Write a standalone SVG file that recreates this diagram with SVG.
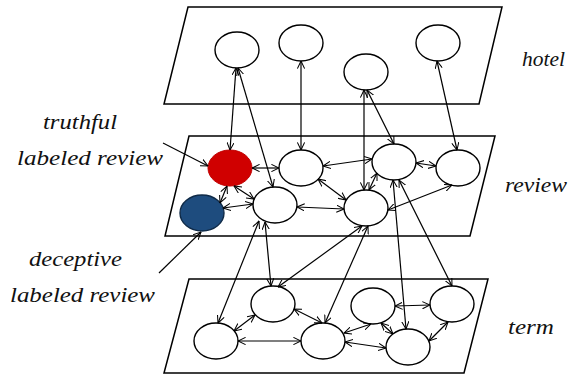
<svg xmlns="http://www.w3.org/2000/svg" width="570" height="376" viewBox="0 0 570 376">
<defs>
<marker id="ah" viewBox="0 0 10 10" refX="9.5" refY="5" markerWidth="8" markerHeight="8" markerUnits="userSpaceOnUse" orient="auto-start-reverse">
<path d="M0,0.5 L9.5,5 L0,9.5" fill="none" stroke="#000" stroke-width="1.3"/>
</marker>
<style>
.plane{fill:none;stroke:#000;stroke-width:1.5}
.n{fill:#fff;stroke:#000;stroke-width:1.4}
.red{fill:#d00000;stroke:#c00000;stroke-width:1}
.blue{fill:#1e4c7e;stroke:#0f2a47;stroke-width:1.4}
.e{fill:none;stroke:#000;stroke-width:1.2;marker-start:url(#ah);marker-end:url(#ah)}
.s{fill:none;stroke:#000;stroke-width:1.2;marker-end:url(#ah)}
.lbl{font-family:"Liberation Serif","Times New Roman",serif;font-style:italic;fill:#111}
</style>
</defs>
<rect width="570" height="376" fill="#fff"/>
<g id="planes">
<polygon class="plane" points="188,7 502,7 479,104 164,104"/>
<polygon class="plane" points="189,136 495,136 470,236 165,236"/>
<polygon class="plane" points="189,279 488,279 464,373 164,373"/>
</g>
<g id="hotel-nodes">
<g id="H1"><ellipse class="n" cx="237" cy="50" rx="22" ry="18"/></g>
<g id="H2"><ellipse class="n" cx="301" cy="43" rx="22" ry="18"/></g>
<g id="H3"><ellipse class="n" cx="366" cy="72" rx="22" ry="18"/></g>
<g id="H4"><ellipse class="n" cx="438" cy="43" rx="22" ry="18"/></g>
</g>
<g id="review-nodes">
<g id="R1"><ellipse class="red" cx="230" cy="168" rx="22" ry="18"/></g>
<g id="R2"><ellipse class="n" cx="301" cy="168" rx="22" ry="18"/></g>
<g id="R3"><ellipse class="n" cx="394" cy="162" rx="22" ry="18"/></g>
<g id="R4"><ellipse class="n" cx="458" cy="168" rx="22" ry="18"/></g>
<g id="R5"><ellipse class="blue" cx="202" cy="213" rx="22" ry="18"/></g>
<g id="R6"><ellipse class="n" cx="275" cy="205" rx="22" ry="18"/></g>
<g id="R7"><ellipse class="n" cx="366" cy="208" rx="22" ry="18"/></g>
</g>
<g id="term-nodes">
<g id="T1"><ellipse class="n" cx="216" cy="341" rx="22" ry="18"/></g>
<g id="T2"><ellipse class="n" cx="273" cy="304" rx="22" ry="18"/></g>
<g id="T3"><ellipse class="n" cx="323" cy="341" rx="22" ry="18"/></g>
<g id="T4"><ellipse class="n" cx="373" cy="306" rx="22" ry="18"/></g>
<g id="T5"><ellipse class="n" cx="452" cy="304" rx="22" ry="18"/></g>
<g id="T6"><ellipse class="n" cx="408" cy="347" rx="22" ry="18"/></g>
</g>
<g id="connectors">
<line class="e" x1="236" y1="68" x2="230" y2="150"/>
<line class="e" x1="238" y1="68" x2="273" y2="187"/>
<line class="e" x1="301" y1="61" x2="301" y2="150"/>
<line class="e" x1="364" y1="90" x2="364" y2="190"/>
<line class="e" x1="367" y1="90" x2="394" y2="144"/>
<line class="e" x1="437" y1="61" x2="457" y2="150"/>
<line class="e" x1="252" y1="168" x2="279" y2="168"/>
<line class="e" x1="227" y1="186" x2="220" y2="203"/>
<line class="e" x1="234" y1="186" x2="254" y2="199"/>
<line class="e" x1="223" y1="208" x2="253" y2="204"/>
<line class="e" x1="323" y1="166" x2="372" y2="159"/>
<line class="e" x1="318" y1="179" x2="346" y2="200"/>
<line class="e" x1="297" y1="207" x2="344" y2="209"/>
<line class="e" x1="377" y1="173" x2="369" y2="190"/>
<line class="e" x1="416" y1="163" x2="436" y2="166"/>
<line class="e" x1="452" y1="185" x2="388" y2="210"/>
<line class="s" x1="163" y1="143" x2="208" y2="166"/>
<line class="s" x1="159" y1="273" x2="201" y2="232"/>
<line class="e" x1="259" y1="221" x2="218" y2="323"/>
<line class="e" x1="265" y1="222" x2="271" y2="286"/>
<line class="e" x1="362" y1="226" x2="278" y2="287"/>
<line class="e" x1="368" y1="226" x2="325" y2="323"/>
<line class="e" x1="393" y1="180" x2="406" y2="329"/>
<line class="e" x1="399" y1="180" x2="452" y2="286"/>
<line class="e" x1="234" y1="331" x2="255" y2="315"/>
<line class="e" x1="238" y1="341" x2="301" y2="341"/>
<line class="e" x1="294" y1="309" x2="322" y2="323"/>
<line class="e" x1="344" y1="333" x2="371" y2="324"/>
<line class="e" x1="345" y1="342" x2="386" y2="348"/>
<line class="e" x1="395" y1="306" x2="430" y2="305"/>
<line class="e" x1="381" y1="323" x2="393" y2="334"/>
<line class="e" x1="448" y1="322" x2="429" y2="341"/>
</g>
<g id="labels">
<text class="lbl" x="43" y="129" font-size="22" textLength="74" lengthAdjust="spacingAndGlyphs">truthful</text>
<text class="lbl" x="17" y="165" font-size="22" textLength="146" lengthAdjust="spacingAndGlyphs">labeled review</text>
<text class="lbl" x="29" y="266" font-size="22" textLength="93" lengthAdjust="spacingAndGlyphs">deceptive</text>
<text class="lbl" x="10" y="302" font-size="22" textLength="145" lengthAdjust="spacingAndGlyphs">labeled review</text>
<text class="lbl" x="522" y="66" font-size="21" textLength="43" lengthAdjust="spacingAndGlyphs">hotel</text>
<text class="lbl" x="505" y="192" font-size="21" textLength="62" lengthAdjust="spacingAndGlyphs">review</text>
<text class="lbl" x="508" y="334" font-size="21" textLength="46" lengthAdjust="spacingAndGlyphs">term</text>
</g>
</svg>
